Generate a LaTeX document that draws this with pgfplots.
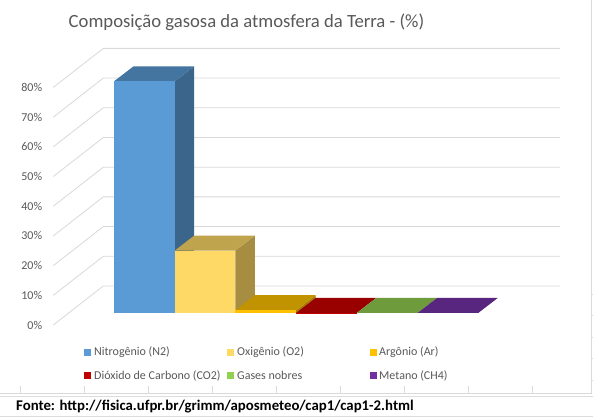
\documentclass[border=0pt]{standalone}
\usepackage{pgfplots}
\pgfplotsset{compat=1.18}
\usepackage{fontspec}
\setmainfont{Carlito}
\definecolor{gridc}{HTML}{D9D9D9}
\definecolor{cellc}{HTML}{DCDCDC}
\definecolor{txt}{HTML}{595959}
\definecolor{blueF}{HTML}{5B9BD5}
\definecolor{blueT}{HTML}{4474A0}
\definecolor{blueS}{HTML}{3B658A}
\definecolor{yelF}{HTML}{FFD966}
\definecolor{yelT}{HTML}{BFA34D}
\definecolor{yelS}{HTML}{A68D42}
\definecolor{argF}{HTML}{FFC000}
\definecolor{argT}{HTML}{C29300}
\definecolor{argS}{HTML}{A67D00}
\definecolor{redF}{HTML}{C00000}
\definecolor{redT}{HTML}{990000}
\definecolor{grnF}{HTML}{92D050}
\definecolor{grnT}{HTML}{6E9C3C}
\definecolor{purF}{HTML}{7030A0}
\definecolor{purT}{HTML}{58267E}
\begin{document}
\begin{tikzpicture}
\useasboundingbox (0,0) rectangle (593bp,417bp);
\fill[white] (0,0) rectangle (593bp,417bp);
% back wall and side wall gridlines (pixel coordinates)
\begin{scope}[x=1bp,y=-1bp,shift={(0bp,417bp)}]
\foreach \v in {0,10,...,80}{
  \draw[gridc, line width=0.8bp] (53.3,{325-2.97*\v}) -- (103.3,{286-2.97*\v}) -- (560,{286-2.97*\v});
}
\end{scope}
\begin{axis}[at={(0,0)}, anchor=south west, scale only axis,
  width=593bp, height=417bp,
  xmin=-1.878, xmax=7.891, ymin=-35.017, ymax=105.387,
  hide axis, clip=false]
% Nitrogenio (N2) 78
\addplot[fill=blueS, draw=none] coordinates {(1,0) (1.321,5.05) (1.321,83.05) (1,78)} -- cycle;
\addplot[fill=blueT, draw=none] coordinates {(0,78) (1,78) (1.321,83.05) (0.321,83.05)} -- cycle;
\addplot[ybar, bar width=1, bar shift=0, fill=blueF, draw=none] coordinates {(0.5,78)};
% Oxigenio (O2) 21
\addplot[fill=yelS, draw=none] coordinates {(2,0) (2.321,5.05) (2.321,26.05) (2,21)} -- cycle;
\addplot[fill=yelT, draw=none] coordinates {(1,21) (2,21) (2.321,26.05) (1.321,26.05)} -- cycle;
\addplot[ybar, bar width=1, bar shift=0, fill=yelF, draw=none] coordinates {(1.5,21)};
% Argonio (Ar) 0.93
\addplot[fill=argS, draw=none] coordinates {(3,0) (3.321,5.05) (3.321,5.98) (3,0.93)} -- cycle;
\addplot[fill=argT, draw=none] coordinates {(2,0.93) (3,0.93) (3.321,5.98) (2.321,5.98)} -- cycle;
\addplot[ybar, bar width=1, bar shift=0, fill=argF, draw=none] coordinates {(2.5,0.93)};
% Dioxido de Carbono (CO2) 0.04
\addplot[fill=redT, draw=none] coordinates {(3,0.04) (4,0.04) (4.321,5.09) (3.321,5.09)} -- cycle;
\addplot[ybar, bar width=1, bar shift=0, fill=redF, draw=none] coordinates {(3.5,0.04)};
% Gases nobres 0.0024
\addplot[fill=grnT, draw=none] coordinates {(4,0.0024) (5,0.0024) (5.321,5.0524) (4.321,5.0524)} -- cycle;
% Metano (CH4) 0.0002
\addplot[fill=purT, draw=none] coordinates {(5,0.0002) (6,0.0002) (6.321,5.0502) (5.321,5.0502)} -- cycle;
\end{axis}
\begin{scope}[x=1bp,y=-1bp,shift={(0bp,417bp)}]
% tick labels
\foreach \v in {0,10,...,80}{
  \node[anchor=east, inner sep=0pt, text=txt, font=\fontsize{12bp}{14bp}\selectfont] at (42.3,{325-2.97*\v}) {\v\%};
}
% title
\node[text=txt, inner sep=0pt, font=\fontsize{18.67bp}{22bp}\selectfont] at (246.5,22) {Composição gasosa da atmosfera da Terra - (\%)};
% legend
\fill[blueF] (84,349) rectangle (91,356);
\fill[yelF] (227,349) rectangle (234,356);
\fill[argF] (370,349) rectangle (377,356);
\fill[redF] (84,372) rectangle (91,379);
\fill[grnF] (227,372) rectangle (234,379);
\fill[purF] (370,372) rectangle (377,379);
\begin{scope}[every node/.style={anchor=west, inner sep=0pt, text=txt, font=\fontsize{12bp}{14bp}\selectfont}]
\node at (94,352.5) {Nitrogênio (N2)};
\node at (237,352.5) {Oxigênio (O2)};
\node at (379,352.5) {Argônio (Ar)};
\node at (94,375.5) {Dióxido de Carbono (CO2)};
\node at (237,375.5) {Gases nobres};
\node at (379,375.5) {Metano (CH4)};
\end{scope}
% chart border and sheet cells
\draw[gridc, line width=0.8bp] (591.7,0) -- (591.7,393.3) -- (0,393.3);
\draw[cellc, line width=0.8bp] (0,396.3) -- (593,396.3);
\draw[cellc, line width=0.8bp] (0,416.3) -- (593,416.3);
\foreach \xx in {20,84,148,212,276,340,404,468,532}{
  \draw[cellc, line width=0.8bp] (\xx,386) -- (\xx,393.3);
  \draw[cellc, line width=0.8bp] (\xx,416.3) -- (\xx,417);
}
\foreach \yy in {294,315.5,337,358.5,380}{
  \draw[cellc, line width=0.8bp] (592.3,\yy) -- (593,\yy);
}
\node[anchor=west, inner sep=0pt, text=black, font=\bfseries\fontsize{14.8bp}{17bp}\selectfont] at (16,406.5) {Fonte: http://fisica.ufpr.br/grimm/aposmeteo/cap1/cap1-2.html};
\end{scope}
\end{tikzpicture}
\end{document}
